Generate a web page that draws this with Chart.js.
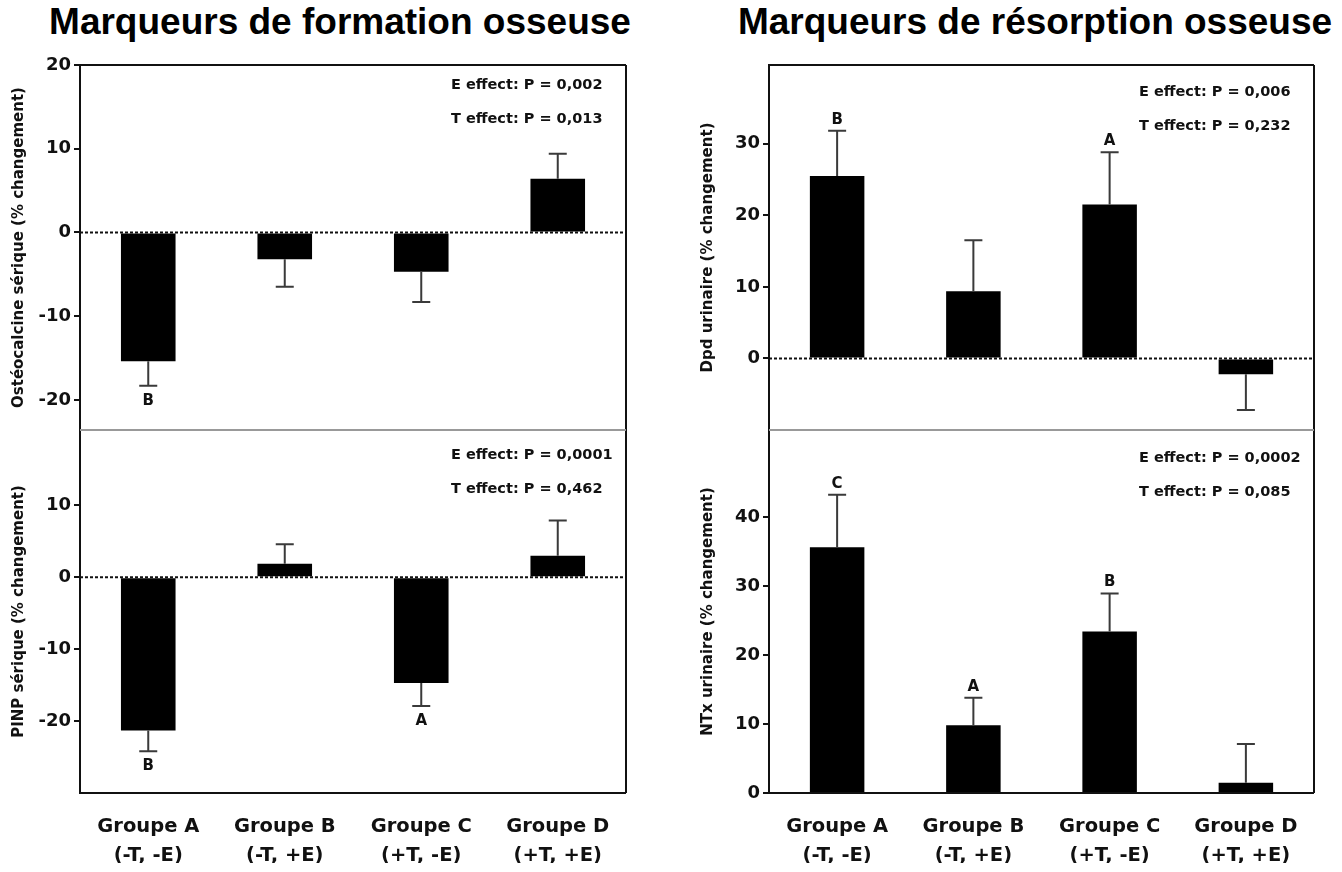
<!DOCTYPE html>
<html>
<head>
<meta charset="utf-8">
<script src="https://cdn.jsdelivr.net/npm/chart.js@4.4.1/dist/chart.umd.min.js"></script>
<style>
  body { margin: 0; background: #fff; }
  #page { position: relative; width: 1342px; height: 872px; overflow: hidden; }
  canvas { position: absolute; left: 0; top: 0; }
  .titre { position: absolute; top: 2px; font-family: "Liberation Sans", Arial, sans-serif; font-weight: bold; font-size: 37px; line-height: 40px; color: #000; white-space: nowrap; text-align: center; }
</style>
</head>
<body>
<div id="page">
  <div class="titre" style="left: 40px; width: 600px;">Marqueurs de formation osseuse</div>
  <div class="titre" style="left: 735px; width: 600px;">Marqueurs de résorption osseuse</div>
  <canvas id="c1" width="1342" height="872"></canvas>
  <canvas id="c2" width="1342" height="872"></canvas>
  <canvas id="c3" width="1342" height="872"></canvas>
  <canvas id="c4" width="1342" height="872"></canvas>
</div>
<script>
// données
const groupes = [['Groupe A', '(-T, -E)'], ['Groupe B', '(-T, +E)'], ['Groupe C', '(+T, -E)'], ['Groupe D', '(+T, +E)']];

const osteocalcine = [-15.4, -3.2, -4.7, 6.4];
const osteocalcineErr = [2.9, 3.3, 3.6, 3.0];
const osteocalcineLettres = ['B', '', '', ''];
const osteocalcineTicks = [-20, -10, 0, 10, 20];

const pinp = [-21.3, 1.9, -14.7, 3.0];
const pinpErr = [2.9, 2.7, 3.2, 4.9];
const pinpLettres = ['B', '', 'A', ''];
const pinpTicks = [-20, -10, 0, 10];

const dpd = [25.5, 9.4, 21.5, -2.2];
const dpdErr = [6.3, 7.1, 7.3, 5.0];
const dpdLettres = ['B', '', 'A', ''];
const dpdTicks = [0, 10, 20, 30];

const ntx = [35.6, 9.8, 23.4, 1.5];
const ntxErr = [7.6, 4.0, 5.5, 5.6];
const ntxLettres = ['C', 'A', 'B', ''];
const ntxTicks = [0, 10, 20, 30, 40];

const police = '"DejaVu Sans", Verdana, sans-serif';

// barres d'erreur, lettres, ligne du zéro, cadre et p-values
const extras = {
    id: 'extras',
    afterDatasetsDraw(chart, args, opts) {
        const ctx = chart.ctx;
        const a = chart.chartArea;
        const y = chart.scales.y;
        const meta = chart.getDatasetMeta(0);
        ctx.save();

        // ligne du zéro en pointillés
        const y0 = y.getPixelForValue(0);
        if (y0 < a.bottom - 1) {
            ctx.strokeStyle = '#111';
            ctx.lineWidth = 2;
            ctx.setLineDash([3, 2]);
            ctx.beginPath();
            ctx.moveTo(a.left, y0);
            ctx.lineTo(a.right, y0);
            ctx.stroke();
            ctx.setLineDash([]);
        }

        meta.data.forEach((bar, i) => {
            const v = opts.valeurs[i];
            const e = opts.erreurs[i];
            const fin = v >= 0 ? v + e : v - e;
            const yBar = y.getPixelForValue(v);
            const yFin = y.getPixelForValue(fin);
            ctx.strokeStyle = '#3a3a3a';
            ctx.lineWidth = 2;
            ctx.beginPath();
            ctx.moveTo(bar.x, yBar);
            ctx.lineTo(bar.x, yFin);
            ctx.moveTo(bar.x - 9, yFin);
            ctx.lineTo(bar.x + 9, yFin);
            ctx.stroke();

            const lettre = opts.lettres[i];
            if (lettre) {
                ctx.fillStyle = '#111';
                ctx.font = 'bold 15px ' + police;
                ctx.textAlign = 'center';
                ctx.textBaseline = 'middle';
                ctx.fillText(lettre, bar.x, v >= 0 ? yFin - 11 : yFin + 15);
            }
        });

        // cadre
        ctx.lineWidth = 2;
        ctx.strokeStyle = '#111';
        ctx.beginPath();
        ctx.moveTo(a.right, a.top);
        ctx.lineTo(a.right, a.bottom);
        ctx.stroke();
        ctx.strokeStyle = opts.haut ? '#111' : '#999';
        ctx.beginPath();
        ctx.moveTo(a.left, a.top);
        ctx.lineTo(a.right, a.top);
        ctx.stroke();
        ctx.strokeStyle = opts.haut ? '#999' : '#111';
        ctx.beginPath();
        ctx.moveTo(a.left, a.bottom);
        ctx.lineTo(a.right, a.bottom);
        ctx.stroke();

        // p-values
        ctx.fillStyle = '#111';
        ctx.font = 'bold 14.5px ' + police;
        ctx.textAlign = 'left';
        ctx.textBaseline = 'middle';
        ctx.fillText(opts.pE, a.right - 175, a.top + opts.dy);
        ctx.fillText(opts.pT, a.right - 175, a.top + opts.dy + 34);
        ctx.restore();
    }
};

function panneau(id, valeurs, erreurs, lettres, ticks, min, max, titre, pE, pT, dy, pad, haut) {
    const ctx = document.getElementById(id).getContext('2d');
    return new Chart(ctx, {
        type: 'bar',
        data: {
            labels: groupes,
            datasets: [{
                data: valeurs,
                backgroundColor: '#000',
                borderWidth: 0,
                barPercentage: 0.4,
                categoryPercentage: 1.0
            }]
        },
        options: {
            responsive: false,
            animation: false,
            layout: { padding: pad },
            plugins: {
                legend: { display: false },
                tooltip: { enabled: false },
                extras: { valeurs: valeurs, erreurs: erreurs, lettres: lettres, pE: pE, pT: pT, dy: dy, haut: haut }
            },
            scales: {
                x: {
                    display: !haut,
                    grid: { display: false },
                    border: { display: false },
                    ticks: {
                        color: '#111',
                        padding: 11,
                        font: { family: police, size: 19.5, weight: 'bold', lineHeight: 1.5 }
                    },
                    afterFit: function(s) { s.height = haut ? 0 : 70; }
                },
                y: {
                    min: min,
                    max: max,
                    afterBuildTicks: function(s) { s.ticks = ticks.map(v => ({ value: v })); },
                    grid: { drawOnChartArea: false, drawTicks: true, tickLength: 6, color: '#111', lineWidth: 2 },
                    border: { display: true, color: '#111', width: 2 },
                    ticks: {
                        color: '#111',
                        padding: 3,
                        font: { family: police, size: 18, weight: 'bold' }
                    },
                    title: {
                        display: true,
                        text: titre,
                        color: '#111',
                        padding: { top: 10, bottom: 0 },
                        font: { family: police, size: 15, weight: 'bold' }
                    },
                    afterFit: function(s) { s.width = 80; }
                }
            }
        },
        plugins: [extras]
    });
}

panneau('c1', osteocalcine, osteocalcineErr, osteocalcineLettres, osteocalcineTicks, -23.6, 20,
    'Ostéocalcine sérique (% changement)', 'E effect: P = 0,002', 'T effect: P = 0,013', 20,
    { left: 0, right: 716, top: 65, bottom: 442 }, true);
panneau('c2', pinp, pinpErr, pinpLettres, pinpTicks, -30, 20.5,
    'PINP sérique (% changement)', 'E effect: P = 0,0001', 'T effect: P = 0,462', 25,
    { left: 0, right: 716, top: 430, bottom: 9 }, false);
panneau('c3', dpd, dpdErr, dpdLettres, dpdTicks, -10, 41,
    'Dpd urinaire (% changement)', 'E effect: P = 0,006', 'T effect: P = 0,232', 27,
    { left: 689, right: 28, top: 65, bottom: 442 }, true);
panneau('c4', ntx, ntxErr, ntxLettres, ntxTicks, 0, 52.6,
    'NTx urinaire (% changement)', 'E effect: P = 0,0002', 'T effect: P = 0,085', 28,
    { left: 689, right: 28, top: 430, bottom: 9 }, false);
</script>
</body>
</html>
